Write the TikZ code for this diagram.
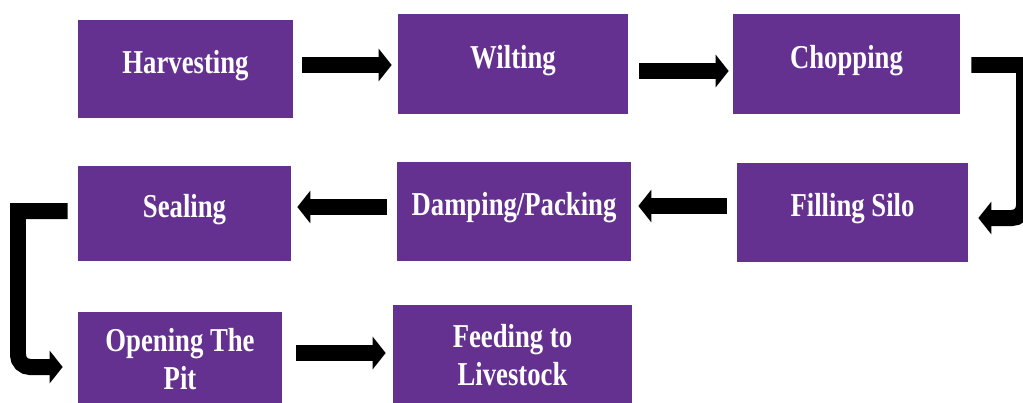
\documentclass[tikz,border=0pt]{standalone}
\usepackage{fontspec}
\newfontfamily\boxfont[FakeStretch=0.8]{Liberation Serif}
\usetikzlibrary{arrows.meta}
\definecolor{silo}{RGB}{100,49,145}
\begin{document}
\begin{tikzpicture}[x=.02cm,y=-.02cm,line join=miter,
  stage/.style={fill=silo,text=white,inner sep=0pt,align=center,
    font=\boxfont\bfseries\fontsize{19}{22}\selectfont},
  one/.style={text height=13pt,text depth=8.4pt},
  blk/.style={line width=.32cm,-{Triangle[width=.64cm,length=.26cm]}}]
  \useasboundingbox (0,0) rectangle (1023,402);
  \node[stage,one,minimum width=4.30cm,minimum height=1.96cm] (harv) at (185.5,69) {Harvesting};
  \node[stage,one,minimum width=4.60cm,minimum height=2.00cm] (wilt) at (513,64) {Wilting};
  \node[stage,one,minimum width=4.54cm,minimum height=2.00cm] (chop) at (846.5,64) {Chopping};
  \node[stage,one,minimum width=4.62cm,minimum height=1.98cm] (fill) at (852.5,212.5) {Filling Silo};
  \node[stage,one,minimum width=4.68cm,minimum height=1.98cm] (damp) at (514,211.5) {Damping/Packing};
  \node[stage,one,minimum width=4.26cm,minimum height=1.90cm] (seal) at (184.5,213.5) {Sealing};
  \node[stage,minimum width=4.08cm,minimum height=1.88cm] (open) at (180,359) {Opening The\\Pit};
  \node[stage,minimum width=4.78cm,minimum height=2.00cm] (feed) at (512.5,355) {Feeding to\\Livestock};
  % top row
  \draw[blk,shorten <=.18cm,shorten >=.12cm] (harv.east |- 0,65) -- (wilt.west |- 0,65);
  \draw[blk,shorten <=.22cm,shorten >=.08cm] (wilt.east |- 0,71) -- (chop.west |- 0,71);
  % turn down on the right
  \coordinate (rt) at (1024,65);
  \coordinate (rb) at (1024,218);
  \draw[blk,shorten <=.22cm,shorten >=.20cm] (chop.east |- rt) -- (rt) [rounded corners=.24cm] -- (rb) -- (fill.east |- rb);
  % middle row
  \draw[blk,shorten <=.20cm,shorten >=.14cm] (fill.west |- 0,206) -- (damp.east |- 0,206);
  \draw[blk,shorten <=.20cm,shorten >=.12cm] (damp.west |- 0,207) -- (seal.east |- 0,207);
  % turn down on the left
  \coordinate (lt) at (18,211);
  \coordinate (lb) at (18,367);
  \draw[blk,shorten <=.20cm,shorten >=.30cm] (seal.west |- lt) -- (lt) [rounded corners=.24cm] -- (lb) -- (open.west |- lb);
  % bottom row
  \draw[blk,shorten <=.28cm,shorten >=.14cm] (open.east |- 0,353) -- (feed.west |- 0,353);
\end{tikzpicture}
\end{document}
